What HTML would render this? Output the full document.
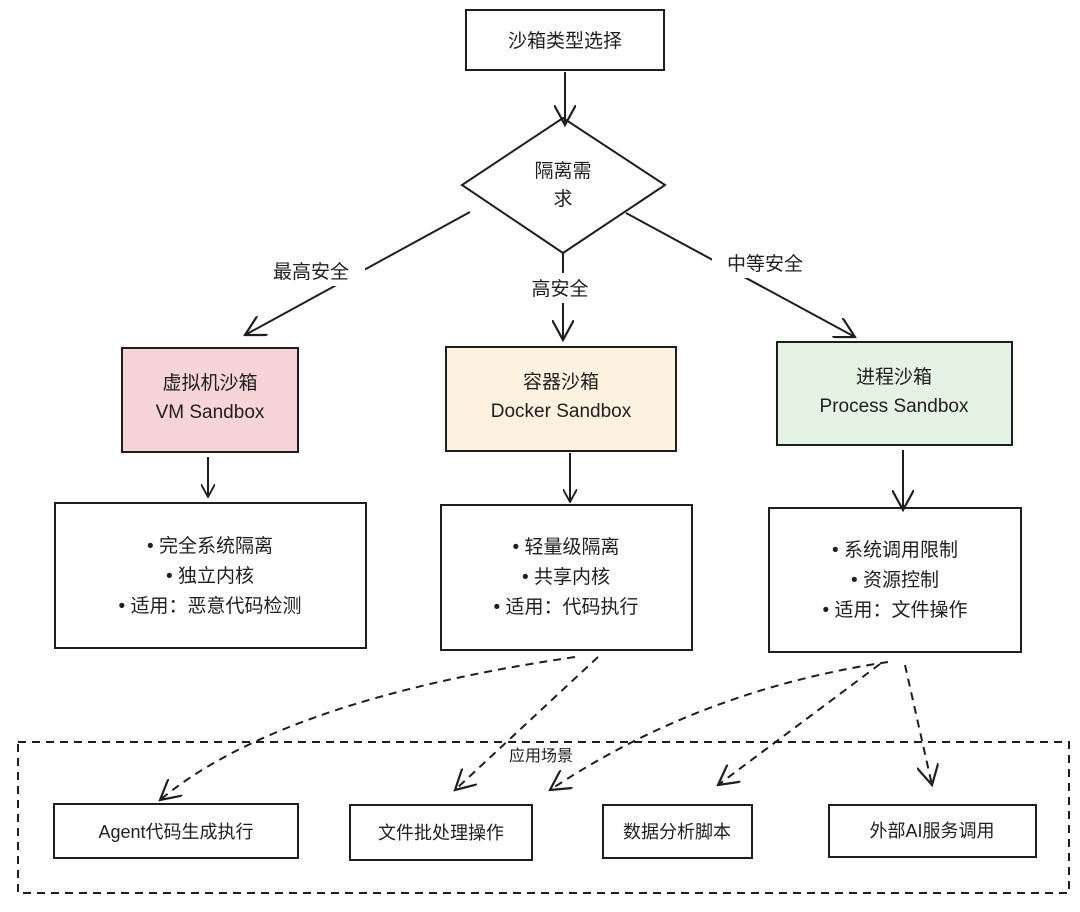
<!DOCTYPE html>
<html><head><meta charset="utf-8"><style>
body{margin:0;background:#fff}
svg text{font-family:"Liberation Sans","Noto Sans CJK SC",sans-serif;fill:#1e1e1e}
</style></head><body>
<svg width="1080" height="907" viewBox="0 0 1080 907" xmlns="http://www.w3.org/2000/svg">
<defs>
<marker id="a" viewBox="0 0 12 12" refX="11" refY="6" markerWidth="14" markerHeight="14" orient="auto" markerUnits="userSpaceOnUse"><path d="M0,0 L11,6 L0,12" fill="none" stroke="#1e1e1e" stroke-width="1.6"/></marker>
<marker id="b" viewBox="0 0 12 12" refX="11" refY="6" markerWidth="22" markerHeight="22" orient="auto" markerUnits="userSpaceOnUse"><path d="M0,0 L11,6 L0,12" fill="none" stroke="#1e1e1e" stroke-width="1.2"/></marker>
</defs>
<g stroke="#1e1e1e" stroke-width="2" fill="#fff">
<rect x="466" y="10" width="198" height="60"/>
<polygon points="563,118 665,185 563,253 462,185"/>
<rect x="122" y="348" width="176" height="104" fill="#f7d4d8"/>
<rect x="446" y="347" width="230" height="104" fill="#fdf2e0"/>
<rect x="777" y="342" width="235" height="103" fill="#e5f3e4"/>
<rect x="55" y="503" width="311" height="145"/>
<rect x="441" y="505" width="251" height="145"/>
<rect x="769" y="508" width="252" height="144"/>
<rect x="18" y="742" width="1051" height="151" fill="none" stroke-dasharray="8,6"/>
<rect x="54" y="804" width="244" height="54"/>
<rect x="350" y="805" width="182" height="55"/>
<rect x="603" y="805" width="149" height="53"/>
<rect x="829" y="805" width="207" height="52"/>
</g>
<g stroke="#1e1e1e" stroke-width="2" fill="none">
<path d="M565,72 L565,125" marker-end="url(#b)"/>
<path d="M470,212 L245,335" marker-end="url(#b)"/>
<path d="M563,253 L563,340" marker-end="url(#b)"/>
<path d="M626,213 L855,337" marker-end="url(#b)"/>
<path d="M208,457 L208,497" marker-end="url(#a)"/>
<path d="M570,453 L570,502" marker-end="url(#a)"/>
<path d="M903,450 L903,510" marker-end="url(#b)"/>
</g>
<g stroke="#1e1e1e" stroke-width="2" fill="none" stroke-dasharray="8,6">
<path d="M575,657 Q280,700 160,800" marker-end="url(#b)"/>
<path d="M598,657 L455,790" marker-end="url(#b)"/>
<path d="M888,662 Q700,690 550,790" marker-end="url(#b)"/>
<path d="M880,664 L718,785" marker-end="url(#b)"/>
<path d="M905,665 L932,785" marker-end="url(#b)"/>
</g>
<g font-size="19" text-anchor="middle">
<rect x="255" y="256" width="110" height="30" fill="#fff"/>
<rect x="512" y="273" width="98" height="30" fill="#fff"/>
<rect x="712" y="248" width="106" height="30" fill="#fff"/>
<text x="565" y="47">沙箱类型选择</text>
<text x="563" y="177">隔离需</text>
<text x="563" y="205">求</text>
<text x="311" y="278">最高安全</text>
<text x="560" y="295">高安全</text>
<text x="765" y="270">中等安全</text>
<text x="210" y="389">虚拟机沙箱</text>
<text x="210" y="418">VM Sandbox</text>
<text x="561" y="388">容器沙箱</text>
<text x="561" y="417">Docker Sandbox</text>
<text x="894" y="383">进程沙箱</text>
<text x="894" y="412">Process Sandbox</text>
<text x="210" y="552">• 完全系统隔离</text>
<text x="210" y="582">• 独立内核</text>
<text x="210" y="612">• 适用：恶意代码检测</text>
<text x="566" y="553">• 轻量级隔离</text>
<text x="566" y="583">• 共享内核</text>
<text x="566" y="613">• 适用：代码执行</text>
<text x="895" y="556">• 系统调用限制</text>
<text x="895" y="586">• 资源控制</text>
<text x="895" y="616">• 适用：文件操作</text>
<text x="176" y="838" font-size="18">Agent代码生成执行</text>
<text x="441" y="839" font-size="18">文件批处理操作</text>
<text x="677" y="838" font-size="18">数据分析脚本</text>
<text x="932" y="837" font-size="18">外部AI服务调用</text>
<text x="541" y="761" font-size="16">应用场景</text>
</g>
</svg>
</body></html>
